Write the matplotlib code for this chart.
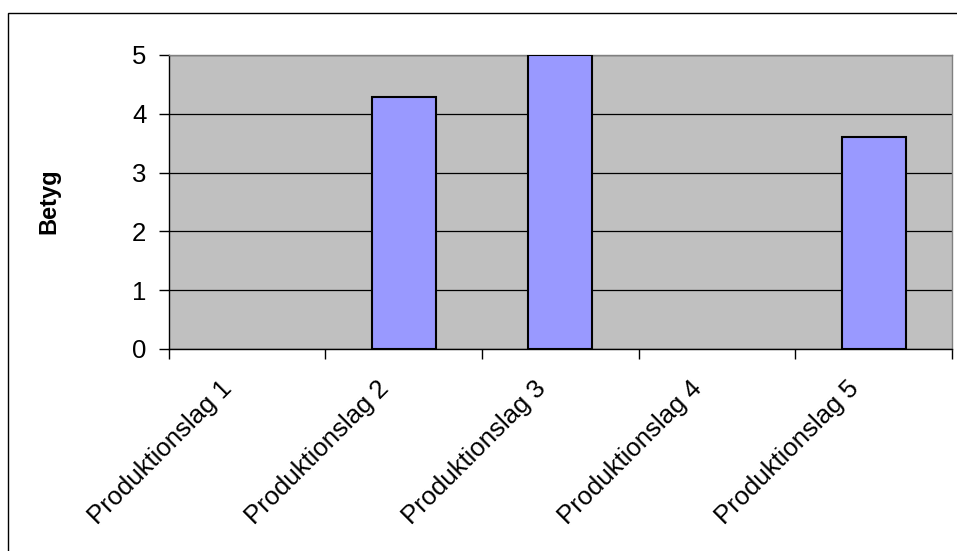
import matplotlib
matplotlib.use("Agg")
import matplotlib.pyplot as plt
from matplotlib.patches import Rectangle
from matplotlib.transforms import ScaledTranslation
import numpy as np

categories = ["Produktionslag 1", "Produktionslag 2", "Produktionslag 3",
              "Produktionslag 4", "Produktionslag 5"]
values = [0, 4.28, 5.0, 0, 3.6]
yticks = [0, 1, 2, 3, 4, 5]

plt.rcParams['font.family'] = ['Liberation Sans', 'DejaVu Sans']

fig = plt.figure(figsize=(9.57, 5.51), dpi=100)
fig.patch.set_facecolor('white')
# outer chart border (left/top visible)
fig.patches.append(Rectangle((8/957, -0.05), 1.2, 1 - 13/551 + 0.05,
                             transform=fig.transFigure, fill=False,
                             edgecolor='black', linewidth=1.0))

ax = fig.add_axes([168.7/957, 1 - 349/551, (952 - 168.7)/957, (349 - 55)/551])
ax.set_facecolor('#C0C0C0')

x = np.arange(len(categories))
edges = ['black' if v != 0 else 'none' for v in values]
ax.bar(x, values, width=0.41, color='#9999FF', edgecolor=edges,
       linewidth=1.5, zorder=3)

ax.set_xlim(-0.5, len(categories) - 0.5)
ax.set_ylim(0, 5)
ax.set_yticks(yticks)
ax.set_yticklabels([str(v) for v in yticks], fontsize=18.5)
ax.yaxis.grid(True, color='black', linewidth=0.9, zorder=1)
ax.set_axisbelow(True)

ax.set_xticks(x)
ax.set_xticklabels(categories, rotation=45, ha='right', fontsize=18.5)
ax.tick_params(axis='x', which='major', length=0, pad=20)
offset = ScaledTranslation(-10/100, 0, fig.dpi_scale_trans)
for lbl in ax.get_xticklabels():
    lbl.set_transform(lbl.get_transform() + offset)
ax.set_xticks(np.arange(-0.5, len(categories), 1.0), minor=True)
ax.tick_params(axis='x', which='minor', length=7, width=1, color='black', direction='out')
ax.tick_params(axis='y', length=7, width=1, direction='out', pad=9)

for s in ['top', 'right']:
    ax.spines[s].set_color('#808080')
    ax.spines[s].set_linewidth(1.0)
for s in ['left', 'bottom']:
    ax.spines[s].set_color('black')
    ax.spines[s].set_linewidth(1.0)

fig.text(49/957, 1 - 201/551, 'Betyg', rotation=90, ha='center', va='center',
         fontsize=17, fontweight='bold')

fig.savefig('out.png', dpi=100)
